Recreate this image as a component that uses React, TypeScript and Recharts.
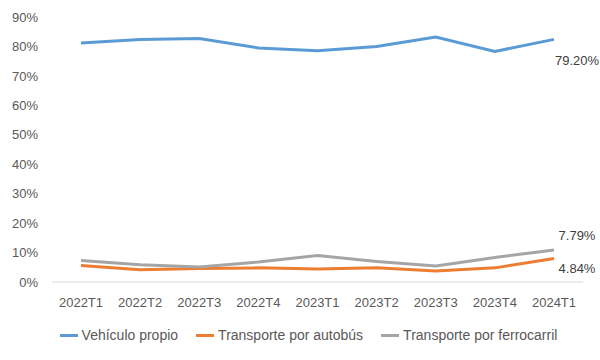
import React from "react";
import { LineChart, Line, XAxis, YAxis, Legend, LabelList } from "recharts";

// Shares by transport mode
const QUARTERS = ["2022T1", "2022T2", "2022T3", "2022T4", "2023T1", "2023T2", "2023T3", "2023T4", "2024T1"];
const VEHICULO = [0.812, 0.824, 0.827, 0.795, 0.785, 0.8, 0.832, 0.783, 0.824];
const AUTOBUS = [0.056, 0.042, 0.046, 0.048, 0.044, 0.048, 0.037, 0.048, 0.08];
const FERROCARRIL = [0.073, 0.059, 0.051, 0.068, 0.09, 0.07, 0.054, 0.083, 0.109];
// labels shown on the last point (as printed in the original)
const END_LABELS = { vehiculo: "79.20%", autobus: "4.84%", ferrocarril: "7.79%" };
const Y_TICKS = [0, 0.1, 0.2, 0.3, 0.4, 0.5, 0.6, 0.7, 0.8, 0.9];

const DATA = QUARTERS.map((q, i) => ({
  q,
  vehiculo: VEHICULO[i],
  autobus: AUTOBUS[i],
  ferrocarril: FERROCARRIL[i],
}));

const SERIES = [
  { key: "vehiculo", name: "Vehículo propio", color: "#5B9BD5", dy: 22 },
  { key: "autobus", name: "Transporte por autobús", color: "#ED7D31", dy: 11 },
  { key: "ferrocarril", name: "Transporte por ferrocarril", color: "#A5A5A5", dy: -13 },
];

const FONT = "'Liberation Sans', Arial, sans-serif";
const TEXT = "#595959";

function endLabel(text: string, dy: number) {
  return (props: any) => {
    if (props.index !== QUARTERS.length - 1) return null;
    return (
      <text
        x={props.x + 23}
        y={props.y + dy}
        textAnchor="middle"
        dominantBaseline="middle"
        fontSize={13}
        fill="#404040"
        fontFamily={FONT}
      >
        {text}
      </text>
    );
  };
}

function LegendBox() {
  return (
    <div
      style={{
        display: "flex",
        justifyContent: "center",
        gap: 18,
        paddingLeft: 34,
        fontFamily: FONT,
        fontSize: 14,
        color: TEXT,
      }}
    >
      {SERIES.map((s) => (
        <div key={s.key} style={{ display: "flex", alignItems: "center" }}>
          <span style={{ display: "inline-block", width: 18, height: 3, background: s.color, marginRight: 4 }} />
          {s.name}
        </div>
      ))}
    </div>
  );
}

export default function App() {
  return (
    <div style={{ position: "absolute", left: 0, top: 0, background: "#fff" }}>
      <LineChart width={600} height={360} data={DATA} margin={{ top: 17, right: 17, left: 0, bottom: 9 }}>
        <XAxis
          dataKey="q"
          tick={{ fill: TEXT, fontSize: 13, fontFamily: FONT }}
          tickLine={false}
          axisLine={{ stroke: "#D9D9D9" }}
          height={45}
          tickMargin={10}
          padding={{ left: 29, right: 29 }}
        />
        <YAxis
          domain={[0, 0.9]}
          ticks={Y_TICKS}
          width={52}
          tick={{ fill: TEXT, fontSize: 13, fontFamily: FONT }}
          tickLine={false}
          axisLine={false}
          tickMargin={8}
          tickFormatter={(v) => `${Math.round(v * 100)}%`}
        />
        <Legend verticalAlign="bottom" height={24} content={() => <LegendBox />} />
        {SERIES.map((s) => (
          <Line
            key={s.key}
            type="linear"
            dataKey={s.key}
            name={s.name}
            stroke={s.color}
            strokeWidth={3}
            dot={false}
            isAnimationActive={false}
          >
            <LabelList dataKey={s.key} content={endLabel((END_LABELS as any)[s.key], s.dy)} />
          </Line>
        ))}
      </LineChart>
    </div>
  );
}
